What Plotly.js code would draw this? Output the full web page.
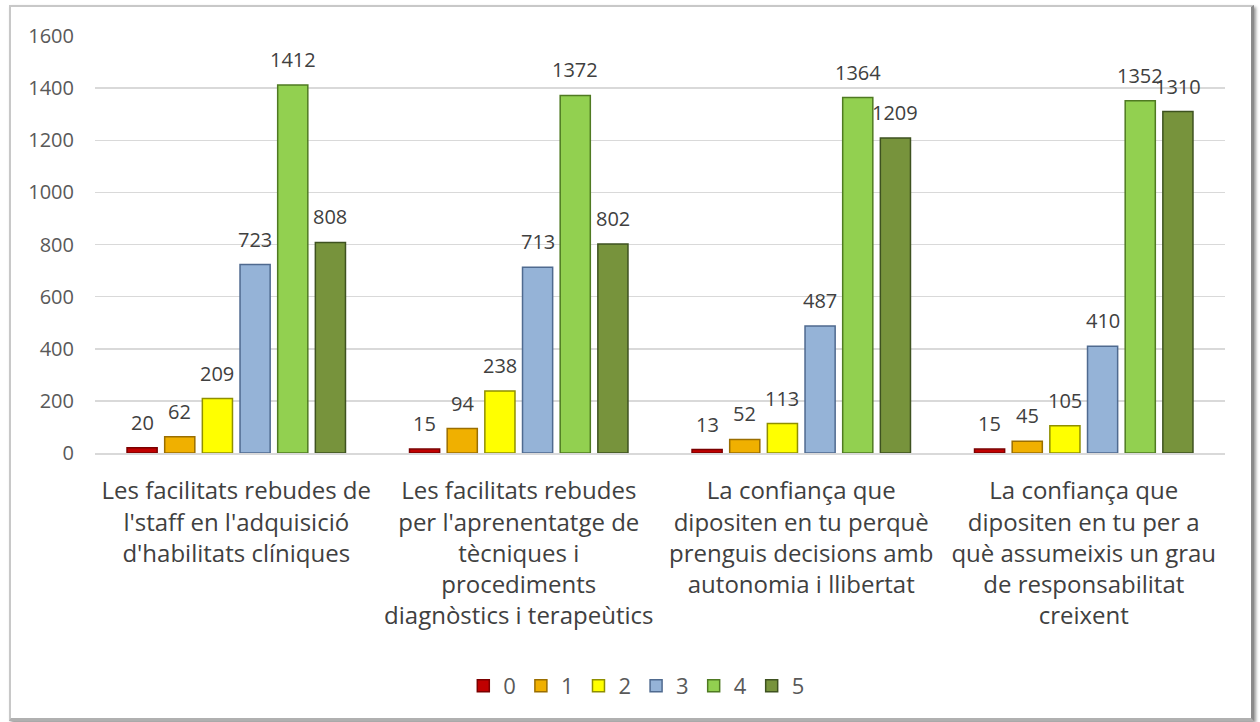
<!DOCTYPE html>
<html><head><meta charset="utf-8">
<script src="https://cdn.plot.ly/plotly-3.0.1.min.js"></script>
<style>
html,body{margin:0;padding:0;background:#fff;}
#wrap{position:relative;width:1260px;height:722px;}
#chart{width:1260px;height:722px;}
#frame{position:absolute;left:9px;top:5px;width:1240px;height:711px;border:2px solid #c8c8c8;border-right:3px solid #8a8a8a;border-bottom:3px solid #b0b0b0;box-shadow:2px 2px 3px #999;pointer-events:none;}
</style></head>
<body>
<div id="wrap"><div id="chart"></div><div id="frame"></div></div>
<script>
const categories = [
  "Les facilitats rebudes de<br>l'staff en l'adquisició<br>d'habilitats clíniques",
  "Les facilitats rebudes<br>per l'aprenentatge de<br>tècniques i<br>procediments<br>diagnòstics i terapeùtics",
  "La confiança que<br>dipositen en tu perquè<br>prenguis decisions amb<br>autonomia i llibertat",
  "La confiança que<br>dipositen en tu per a<br>què assumeixis un grau<br>de responsabilitat<br>creixent"
];
const seriesNames = ["0","1","2","3","4","5"];
const s0 = [20, 15, 13, 15];
const s1 = [62, 94, 52, 45];
const s2 = [209, 238, 113, 105];
const s3 = [723, 713, 487, 410];
const s4 = [1412, 1372, 1364, 1352];
const s5 = [808, 802, 1209, 1310];
const seriesValues = [s0, s1, s2, s3, s4, s5];
const colors = ["#C00000", "#F0B000", "#FFFF00", "#95B3D7", "#92D050", "#77933C"];
const lineColors = ["#7a0000", "#9a6e00", "#8f8f00", "#4f6a8f", "#4f7a22", "#3e5220"];

const W = 1260, H = 722;
const margin = {l: 95, r: 35, t: 36, b: 269};
const bargap = 0.2, bargroupgap = 0.2;
const FONT = 'Open Sans, Liberation Sans, Arial, sans-serif';

const traces = seriesValues.map((vals, i) => ({
  type: 'bar',
  name: seriesNames[i],
  x: categories,
  y: vals,
  marker: {color: colors[i], line: {color: lineColors[i], width: 1.5}}
}));

// data labels placed via the axes (category + value), offset to each bar's slot
const plotW = W - margin.l - margin.r;
const catW = plotW / categories.length;
const slotW = catW * (1 - bargap) / seriesValues.length;
const annotations = [];
seriesValues.forEach((vals, i) => {
  vals.forEach((v, j) => {
    annotations.push({
      x: categories[j], y: v, xref: 'x', yref: 'y',
      text: String(v), showarrow: false,
      xanchor: 'center', yanchor: 'bottom',
      xshift: (i - (seriesValues.length - 1) / 2) * slotW,
      yshift: 10,
      font: {family: FONT, size: 20, color: '#404040'}
    });
  });
});

const layout = {
  width: W, height: H,
  margin: margin,
  paper_bgcolor: '#fff', plot_bgcolor: '#fff',
  font: {family: FONT, color: '#404040'},
  barmode: 'group', bargap: bargap, bargroupgap: bargroupgap,
  xaxis: {
    tickfont: {family: FONT, size: 24, color: '#404040'},
    showline: true, linecolor: '#d9d9d9', linewidth: 1.5,
    ticks: '', showgrid: false, ticklabelstandoff: 16
  },
  yaxis: {
    range: [0, 1600], dtick: 200, tickfont: {family: FONT, size: 20, color: '#595959'},
    gridcolor: '#d9d9d9', gridwidth: 1.5, zeroline: false, ticks: '',
    showline: false, ticklabelstandoff: 20
  },
  annotations: annotations,
  showlegend: true,
  legend: {orientation: 'h', xref: 'container', yref: 'container', x: 0.505, xanchor: 'center', y: 0.05, yanchor: 'middle',
    font: {family: FONT, size: 22, color: '#595959'}, itemwidth: 30, tracegroupgap: 0}
};
Plotly.newPlot('chart', traces, layout, {displayModeBar: false, staticPlot: true});
</script>
</body></html>
